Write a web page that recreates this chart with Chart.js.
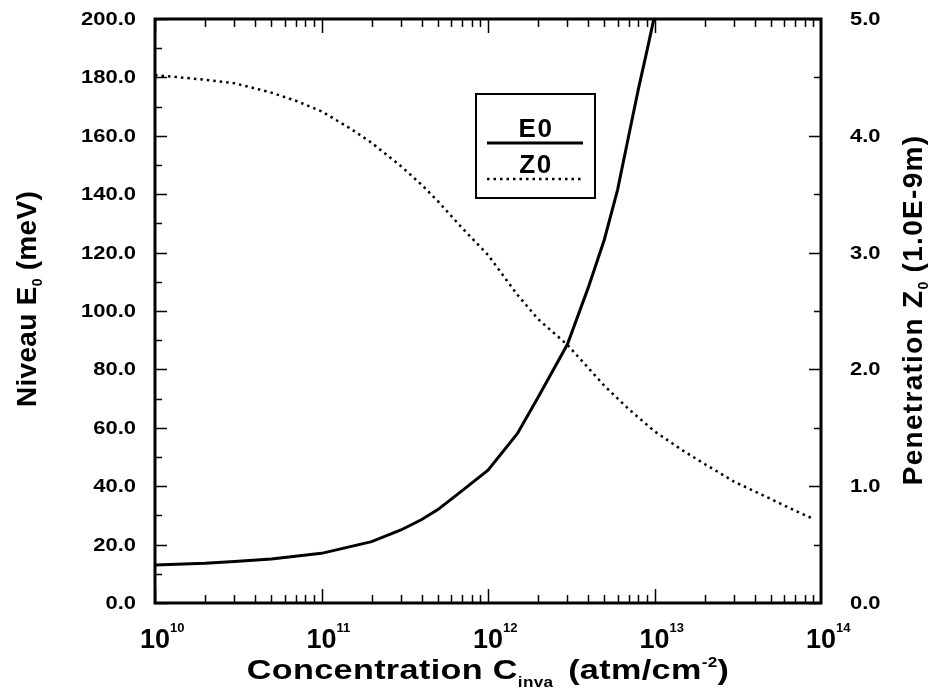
<!DOCTYPE html>
<html>
<head>
<meta charset="utf-8">
<script src="https://cdn.jsdelivr.net/npm/chart.js@4/dist/chart.umd.min.js"></script>
<style>
  html, body { margin: 0; padding: 0; background: #fff; }
  #wrap { width: 933px; height: 689px; }
</style>
</head>
<body>
<div id="wrap"><canvas id="c" width="933" height="689"></canvas></div>
<script>
// Concentration (atm/cm^-2) sampled for the ground level E0
const concE0 = [1e10, 2e10, 3e10, 5e10, 1e11, 2e11, 3e11, 4e11, 5e11, 7e11,
                1e12, 1.5e12, 2e12, 3e12, 4e12, 5e12, 6e12, 7e12, 8e12, 9e12, 1e13];
// Ground level E0 (meV)
const levelE0 = [13.0, 13.6, 14.2, 15.1, 17.0, 21.0, 25.0, 28.6, 32.0, 38.5,
                 45.5, 58.0, 70.5, 88.6, 108.0, 124.5, 141.5, 160.0, 176.0, 189.0, 201.0];

// Concentration (atm/cm^-2) sampled for the penetration depth Z0
const concZ0 = [1e10, 2e10, 3e10, 5e10, 7e10, 1e11, 1.5e11, 2e11, 3e11, 4e11, 5e11, 7e11,
                1e12, 1.5e12, 2e12, 3e12, 5e12, 7e12, 1e13, 1.5e13, 2e13, 3e13, 5e13, 7e13, 9e13];
// Penetration depth Z0 (1.0E-9 m)
const depthZ0 = [4.52, 4.48, 4.45, 4.37, 4.30, 4.21, 4.06, 3.94, 3.74, 3.58, 3.44, 3.21,
                 2.98, 2.64, 2.43, 2.21, 1.86, 1.66, 1.47, 1.30, 1.19, 1.04, 0.89, 0.79, 0.72];

// Axis ticks
const xDecades = [10, 11, 12, 13, 14];
const yLeftTicks = [0, 20, 40, 60, 80, 100, 120, 140, 160, 180, 200];
const yRightTicks = [0, 1, 2, 3, 4, 5];

const FONT = '"Liberation Sans", Arial, Helvetica, sans-serif';

// Width of a run of text pieces (with sub/superscripts)
function richWidth(ctx, parts, spacing) {
  let w = 0;
  for (const p of parts) {
    ctx.font = 'bold ' + p.size + 'px ' + FONT;
    w += ctx.measureText(p.t).width + p.t.length * spacing + (p.gap || 0);
  }
  return w;
}
// Draws the run centred on cx, on baseline baseY, stretched horizontally by sx
function drawRich(ctx, parts, cx, baseY, spacing, sx) {
  spacing = spacing || 0;
  sx = sx || 1;
  const w = richWidth(ctx, parts, spacing) * sx;
  ctx.save();
  ctx.translate(cx - w / 2, baseY);
  ctx.scale(sx, 1);
  ctx.textAlign = 'left';
  ctx.textBaseline = 'alphabetic';
  let x = 0;
  for (const p of parts) {
    ctx.font = 'bold ' + p.size + 'px ' + FONT;
    let cx2 = x;
    for (const ch of p.t) {
      ctx.fillText(ch, cx2, p.dy || 0);
      cx2 += ctx.measureText(ch).width + spacing;
    }
    x += ctx.measureText(p.t).width + p.t.length * spacing + (p.gap || 0);
  }
  ctx.restore();
}
// Tick label drawn with wide glyphs
function wideText(ctx, text, x, y, align) {
  const sx = 1.22;
  ctx.save();
  ctx.font = 'bold 18px ' + FONT;
  ctx.textBaseline = 'middle';
  ctx.textAlign = 'left';
  const w = ctx.measureText(text).width * sx;
  const x0 = align === 'right' ? x - w : x;
  ctx.translate(x0, y);
  ctx.scale(sx, 1);
  ctx.fillText(text, 0, 0);
  ctx.restore();
}

const framePlugin = {
  id: 'frame',
  beforeDraw(chart) {
    const ctx = chart.ctx;
    ctx.save();
    ctx.fillStyle = '#fff';
    ctx.fillRect(0, 0, chart.width, chart.height);
    ctx.restore();
  },
  afterDraw(chart) {
    const ctx = chart.ctx;
    const a = chart.chartArea;
    const xs = chart.scales.x, yl = chart.scales.y, yr = chart.scales.y2;
    ctx.save();
    ctx.strokeStyle = '#000';
    ctx.fillStyle = '#000';

    // plot frame
    ctx.lineWidth = 3;
    ctx.strokeRect(a.left, a.top, a.right - a.left, a.bottom - a.top);

    // inward tick marks
    ctx.lineWidth = 1.5;
    ctx.beginPath();
    for (let v = 0; v <= 200; v += 10) {
      const y = Math.round(yl.getPixelForValue(v)) + 0.5;
      const len = v % 20 === 0 ? 12 : 7;
      ctx.moveTo(a.left, y); ctx.lineTo(a.left + len, y);
    }
    for (let v = 0; v <= 5; v += 0.5) {
      const y = Math.round(yr.getPixelForValue(v)) + 0.5;
      const len = Number.isInteger(v) ? 12 : 7;
      ctx.moveTo(a.right, y); ctx.lineTo(a.right - len, y);
    }
    for (let k = xDecades[0]; k < xDecades[xDecades.length - 1]; k++) {
      for (let m = 1; m <= 9; m++) {
        const x = Math.round(xs.getPixelForValue(m * Math.pow(10, k))) + 0.5;
        const len = m === 1 ? 14 : 8;
        ctx.moveTo(x, a.bottom); ctx.lineTo(x, a.bottom - len);
        ctx.moveTo(x, a.top); ctx.lineTo(x, a.top + len);
      }
    }
    ctx.stroke();

    // left and right tick labels
    for (const v of yLeftTicks) {
      wideText(ctx, v.toFixed(1), 136, yl.getPixelForValue(v) + 1, 'right');
    }
    for (const v of yRightTicks) {
      wideText(ctx, v.toFixed(1), 850, yr.getPixelForValue(v) + 1, 'left');
    }

    // x tick labels: powers of ten
    for (const k of xDecades) {
      const x = xs.getPixelForValue(Math.pow(10, k));
      ctx.font = 'bold 27px ' + FONT;
      ctx.textAlign = 'center';
      ctx.textBaseline = 'alphabetic';
      ctx.fillText('10', x, 648);
      ctx.font = 'bold 13px ' + FONT;
      ctx.textAlign = 'left';
      ctx.fillText(String(k), x + 15, 632);
    }

    // x axis title
    drawRich(ctx, [
      { t: 'Concentration C', size: 28 },
      { t: 'inva', size: 14, dy: 8, gap: 12 },
      { t: '(atm/cm', size: 28 },
      { t: '-2', size: 14, dy: -12 },
      { t: ')', size: 28 }
    ], 488, 679, 0.3, 1.22);

    // left axis title
    ctx.save();
    ctx.translate(36, 299);
    ctx.rotate(-Math.PI / 2);
    drawRich(ctx, [
      { t: 'Niveau E', size: 28 },
      { t: '0', size: 14, dy: 6, gap: 8 },
      { t: '(meV)', size: 28 }
    ], 0, 0, 0.3);
    ctx.restore();

    // right axis title
    ctx.save();
    ctx.translate(922, 310);
    ctx.rotate(-Math.PI / 2);
    drawRich(ctx, [
      { t: 'Penetration Z', size: 28 },
      { t: '0', size: 14, dy: 6, gap: 8 },
      { t: '(1.0E-9m)', size: 28 }
    ], 0, 0, 1.3);
    ctx.restore();

    // legend box
    const ds = chart.data.datasets;
    const lx = 476, ly = 94, lw = 119, lh = 104;
    ctx.lineWidth = 2;
    ctx.fillStyle = '#fff';
    ctx.fillRect(lx, ly, lw, lh);
    ctx.strokeRect(lx, ly, lw, lh);
    ctx.fillStyle = '#000';
    drawRich(ctx, [{ t: ds[0].label, size: 26 }], 536, 137, 1.5);
    drawRich(ctx, [{ t: ds[1].label, size: 26 }], 536, 173, 1.5);
    ctx.strokeStyle = ds[0].borderColor;
    ctx.lineWidth = ds[0].borderWidth;
    ctx.setLineDash([]);
    ctx.beginPath(); ctx.moveTo(487, 143); ctx.lineTo(583, 143); ctx.stroke();
    ctx.lineWidth = ds[1].borderWidth;
    ctx.setLineDash(ds[1].borderDash);
    ctx.beginPath(); ctx.moveTo(487, 179); ctx.lineTo(583, 179); ctx.stroke();
    ctx.setLineDash([]);

    ctx.restore();
  }
};

const toPoints = (xs, ys) => xs.map((x, i) => ({ x: x, y: ys[i] }));

new Chart(document.getElementById('c'), {
  type: 'line',
  data: {
    datasets: [
      {
        label: 'E0',
        data: toPoints(concE0, levelE0),
        yAxisID: 'y',
        borderColor: '#000',
        borderWidth: 3,
        pointRadius: 0,
        tension: 0,
        fill: false
      },
      {
        label: 'Z0',
        data: toPoints(concZ0, depthZ0),
        yAxisID: 'y2',
        borderColor: '#000',
        borderWidth: 2.5,
        borderDash: [2.5, 4],
        pointRadius: 0,
        tension: 0,
        fill: false
      }
    ]
  },
  options: {
    responsive: false,
    devicePixelRatio: 1,
    animation: false,
    layout: { padding: { left: 155, right: 112, top: 19, bottom: 86 } },
    plugins: { legend: { display: false }, tooltip: { enabled: false } },
    scales: {
      x: { type: 'logarithmic', min: 1e10, max: 1e14, display: false },
      y: { type: 'linear', position: 'left', min: 0, max: 200, display: false },
      y2: { type: 'linear', position: 'right', min: 0, max: 5, display: false }
    }
  },
  plugins: [framePlugin]
});
</script>
</body>
</html>
